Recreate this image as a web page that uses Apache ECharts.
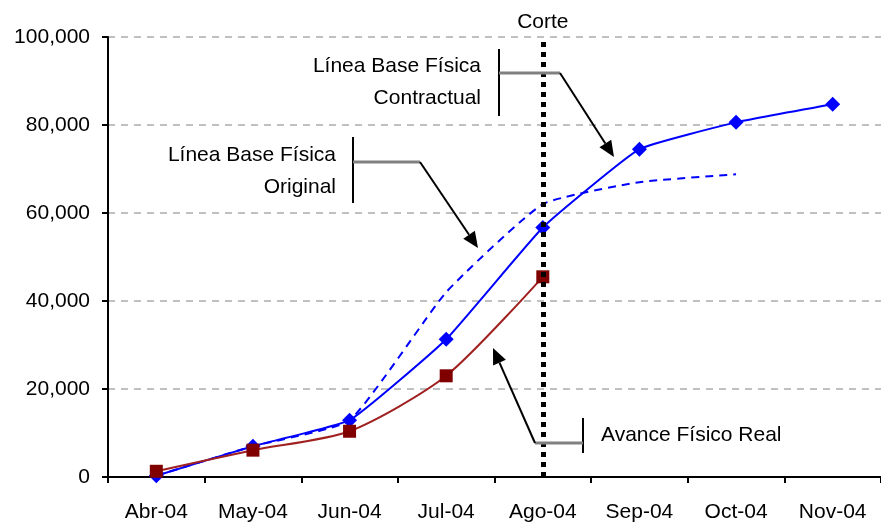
<!DOCTYPE html>
<html>
<head>
<meta charset="utf-8">
<script src="https://cdn.jsdelivr.net/npm/echarts@6/dist/echarts.min.js"></script>
<style>
  html, body { margin: 0; padding: 0; background: #fff; }
  #chart { width: 881px; height: 523px; }
</style>
</head>
<body>
<div id="chart"></div>
<script>
// Months of the project schedule
const months = ['Abr-04', 'May-04', 'Jun-04', 'Jul-04', 'Ago-04', 'Sep-04', 'Oct-04', 'Nov-04'];
// Cumulative physical progress per month
const baseContractual = [300, 7000, 12900, 31300, 56700, 74500, 80600, 84700];
const baseOriginal = [300, 7000, 12900, 42000, 62000, 67000, 68800, null];
const avanceReal = [1300, 6100, 10400, 23000, 45500, null, null, null];
// Cut-off month
const corte = 'Ago-04';
// Y axis ticks
const yMin = 0, yMax = 100000, yStep = 20000;

const FONT = '"Liberation Sans", Arial, sans-serif';
const chart = echarts.init(document.getElementById('chart'));

function arrow(x1, y1, x2, y2) {
  const dx = x2 - x1, dy = y2 - y1;
  const len = Math.sqrt(dx * dx + dy * dy);
  const ux = dx / len, uy = dy / len;
  const hl = 16, hw = 7;
  const bx = x2 - ux * hl, by = y2 - uy * hl;
  return [
    { type: 'line', z: 50, shape: { x1: x1, y1: y1, x2: bx, y2: by },
      style: { stroke: '#000', lineWidth: 2 } },
    { type: 'polygon', z: 50, shape: { points: [[x2, y2], [bx - uy * hw, by + ux * hw], [bx + uy * hw, by - ux * hw]] },
      style: { fill: '#000' } }
  ];
}
function callout(lines, tx, ty, barX, barY1, barY2, hx2, hy, tip) {
  const els = [];
  lines.forEach(function (t, i) {
    els.push({ type: 'text', z: 50, style: { text: t, x: tx, y: ty + i * 32, align: 'right', verticalAlign: 'middle',
      font: '21px ' + FONT, fill: '#000' } });
  });
  els.push({ type: 'line', z: 50, shape: { x1: barX, y1: barY1, x2: barX, y2: barY2 }, style: { stroke: '#000', lineWidth: 2 } });
  els.push({ type: 'line', z: 50, shape: { x1: barX, y1: hy, x2: hx2, y2: hy }, style: { stroke: '#808080', lineWidth: 3 } });
  return els.concat(arrow(hx2, hy, tip[0], tip[1]));
}

const graphics = []
  .concat(callout(['Línea Base Física', 'Contractual'], 481, 66, 499, 49, 116, 560, 73, [614, 157]))
  .concat(callout(['Línea Base Física', 'Original'], 336, 155, 353, 137, 203, 420, 162, [478, 248]));
// Real progress callout: text to the right of the bar
graphics.push({ type: 'line', z: 50, shape: { x1: 583, y1: 418, x2: 583, y2: 453 }, style: { stroke: '#000', lineWidth: 2 } });
graphics.push({ type: 'line', z: 50, shape: { x1: 535, y1: 443, x2: 583, y2: 443 }, style: { stroke: '#808080', lineWidth: 3 } });
graphics.push({ type: 'text', z: 50, style: { text: 'Avance Físico Real', x: 601, y: 435, align: 'left', verticalAlign: 'middle',
  font: '21px ' + FONT, fill: '#000' } });
arrow(535, 443, 493, 348).forEach(function (e) { graphics.push(e); });

chart.setOption({
  animation: false,
  backgroundColor: '#fff',
  grid: { left: 108, top: 37, width: 778, height: 443, containLabel: false },
  xAxis: {
    type: 'category',
    data: months,
    boundaryGap: true,
    axisLine: { lineStyle: { color: '#000', width: 2 } },
    axisTick: { show: true, length: 6, lineStyle: { color: '#000', width: 2 } },
    axisLabel: { color: '#000', fontSize: 21, fontFamily: FONT, margin: 25 },
    splitLine: { show: false }
  },
  yAxis: {
    type: 'value',
    min: yMin, max: yMax, interval: yStep,
    axisLine: { show: true, lineStyle: { color: '#000', width: 2 } },
    axisTick: { show: true, length: 6, lineStyle: { color: '#000', width: 2 } },
    axisLabel: {
      color: '#000', fontSize: 21, fontFamily: FONT, margin: 18,
      formatter: function (v) { return v.toLocaleString('en-US'); }
    },
    splitLine: { show: true, lineStyle: { color: '#c0c0c0', width: 2, type: [7, 6] } }
  },
  series: [
    {
      name: 'Corte', type: 'line', data: [], z: 1,
      markLine: {
        silent: true, symbol: ['none', 'none'],
        lineStyle: { color: '#000', width: 5, type: [5, 5] },
        label: { show: true, position: 'end', formatter: 'Corte', color: '#000', fontSize: 21, fontFamily: FONT, distance: 4 },
        data: [{ xAxis: corte }]
      }
    },
    {
      name: 'Línea Base Física Original', type: 'line', data: baseOriginal, z: 2,
      showSymbol: false, smooth: 0.15,
      lineStyle: { color: '#0000ff', width: 2, type: [8, 6] }
    },
    {
      name: 'Línea Base Física Contractual', type: 'line', data: baseContractual, z: 3,
      smooth: 0.12, symbol: 'diamond', symbolSize: 15,
      itemStyle: { color: '#0000ff' },
      lineStyle: { color: '#0000ff', width: 2 }
    },
    {
      name: 'Avance Físico Real', type: 'line', data: avanceReal, z: 4,
      smooth: 0.25, symbol: 'rect', symbolSize: 13,
      itemStyle: { color: '#800000' },
      lineStyle: { color: '#a02020', width: 2 }
    }
  ],
  graphic: graphics
});
</script>
</body>
</html>
